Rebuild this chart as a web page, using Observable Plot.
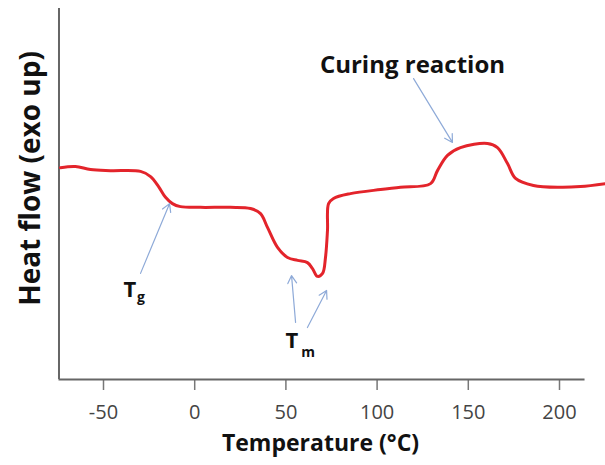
<!DOCTYPE html>
<html>
<head>
<meta charset="utf-8">
<script src="https://cdn.jsdelivr.net/npm/d3@7"></script>
<script src="https://cdn.jsdelivr.net/npm/@observablehq/plot@0.6"></script>
<style>
  html, body { margin: 0; padding: 0; background: #fff; }
  svg { display: block; }
</style>
</head>
<body>
<div id="chart"></div>
<script>
// DSC thermogram: heat flow (exo up, arbitrary units) vs temperature
const temperature = [-73.6, -65.4, -57.1, -46.2, -29.7, -24.2, -19.8, -16.0, -12.2, -7.8,
  3.2, 19.6, 30.6, 36.1, 39.9, 45.4, 50.9, 56.4, 61.8, 64.6,
  67.3, 70.1, 71.7, 72.8, 73.4, 76.1, 85.4, 101.9, 112.8, 129.3,
  133.1, 138.6, 145.7, 160.5, 166.0, 171.5, 175.9, 185.7, 200.5, 211.5, 225.2];
const heatFlow = [57.1, 57.4, 56.6, 56.3, 56.1, 54.7, 52.0, 49.1, 47.4, 46.6,
  46.4, 46.4, 46.1, 44.7, 41.0, 35.6, 32.9, 32.1, 31.5, 29.9,
  27.8, 28.6, 32.9, 40.2, 47.4, 48.8, 50.1, 51.2, 51.8, 52.8,
  56.3, 60.4, 62.5, 63.6, 62.5, 58.2, 54.2, 52.3, 51.8, 52.0, 52.8];

const xTicks = [-50, 0, 50, 100, 150, 200];
const xMin = -74.4, xAxisEnd = 214;

// annotation arrows: tail (x1,y1) -> tip (x2,y2)
const arrowX1 = [-29.7, 55.3, 61.8, 120.0];
const arrowY1 = [28.6, 15.4, 14.0, 81.1];
const arrowX2 = [-13.8, 53.1, 72.3, 141.3];
const arrowY2 = [47.4, 28.0, 24.0, 63.9];

// symbol labels: main letter + subscript
const symbolMain = [{x: -39.0, y: 24.1, t: "T"}, {x: 49.8, y: 10.4, t: "T"}];
const symbolSub = [{x: -31.6, y: 22.1, t: "g"}, {x: 58.4, y: 7.3, t: "m"}];

const curve = temperature.map((t, i) => ({t, h: heatFlow[i]}));
const arrows = arrowX1.map((x1, i) => ({x1, y1: arrowY1[i], x2: arrowX2[i], y2: arrowY2[i]}));

const font = "'Open Sans', 'Noto Sans', sans-serif";

const chart = Plot.plot({
  width: 605,
  height: 465,
  marginLeft: 59,
  marginRight: 20,
  marginTop: 8,
  marginBottom: 86,
  style: {fontFamily: font, background: "#fff"},
  x: {domain: [-50, 200], range: [103, 559]},
  y: {domain: [0, 100], range: [379, 8], axis: null},
  marks: [
    Plot.axisX({ticks: xTicks, tickSize: 11, tickPadding: 14, fontSize: 20, stroke: "#777", strokeWidth: 1.5, fill: "#444", label: null, tickFormat: d => d < 0 ? "-" + Math.abs(d) : String(d)}),
    Plot.ruleY([0], {x1: xMin, x2: xAxisEnd, stroke: "#666", strokeWidth: 2}),
    Plot.ruleX([xMin], {y1: 0, y2: 100, stroke: "#666", strokeWidth: 2}),
    Plot.line(curve, {x: "t", y: "h", stroke: "#e3242b", strokeWidth: 3, curve: "catmull-rom"}),
    Plot.arrow(arrows, {x1: "x1", y1: "y1", x2: "x2", y2: "y2", stroke: "#8eaad8", strokeWidth: 1.2, headLength: 11}),
    Plot.text(symbolMain, {x: "x", y: "y", text: "t", textAnchor: "start", fontSize: 22, fontWeight: "bold", fill: "#111"}),
    Plot.text(symbolSub, {x: "x", y: "y", text: "t", textAnchor: "start", fontSize: 14, fontWeight: "bold", fill: "#111"}),
    Plot.text(["Curing reaction"], {x: 119.4, y: 84.6, textAnchor: "middle", fontSize: 24, fontWeight: "bold", fill: "#111"}),
    Plot.text(["Temperature (\u00B0C)"], {x: 69.0, y: -17.3, textAnchor: "middle", fontSize: 23, fontWeight: "bold", fill: "#111"}),
    Plot.text(["Heat flow (exo up)"], {x: -89.5, y: 54.2, rotate: -90, textAnchor: "middle", fontSize: 28, fontWeight: "bold", fill: "#111"})
  ]
});

document.getElementById("chart").append(chart);
</script>
</body>
</html>
